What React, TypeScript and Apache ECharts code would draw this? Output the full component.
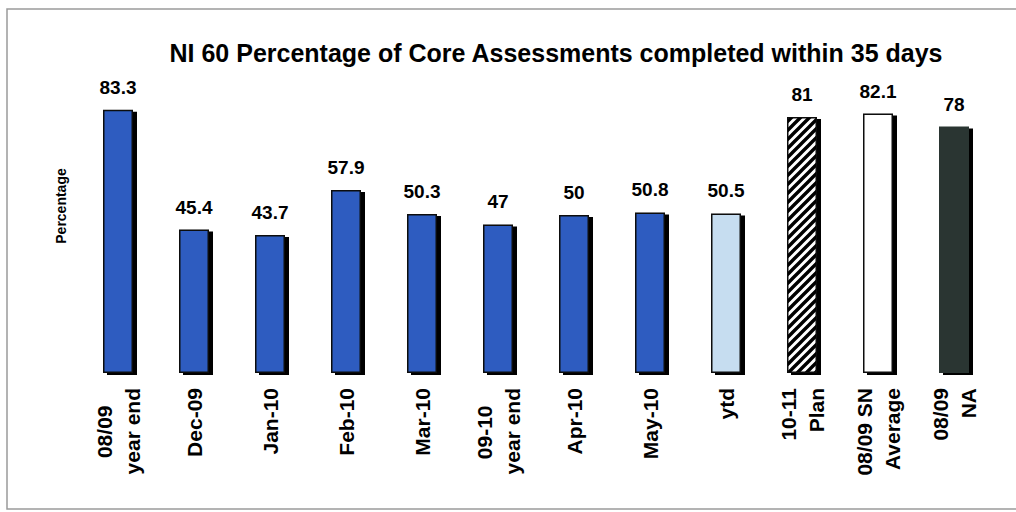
import React, { useEffect, useRef } from "react";
import * as echarts from "echarts";

const titleText = "NI 60 Percentage of Core Assessments completed within 35 days";
const yAxisName = "Percentage";
const categories = [
  "08/09\nyear end",
  "Dec-09",
  "Jan-10",
  "Feb-10",
  "Mar-10",
  "09-10\nyear end",
  "Apr-10",
  "May-10",
  "ytd",
  "10-11\nPlan",
  "08/09 SN\nAverage",
  "08/09\nNA",
];
const values = [83.3, 45.4, 43.7, 57.9, 50.3, 47, 50, 50.8, 50.5, 81, 82.1, 78];
const centeredLabels = ["08/09\nyear end", "09-10\nyear end"];

const FONT = "'Liberation Sans', Arial, sans-serif";

function makeHatch(): any {
  const size = 9;
  const c = document.createElement("canvas");
  c.width = size;
  c.height = size;
  const ctx = c.getContext("2d");
  if (!ctx) return "#ffffff";
  ctx.fillStyle = "#ffffff";
  ctx.fillRect(0, 0, size, size);
  ctx.strokeStyle = "#000000";
  ctx.lineWidth = 3.4;
  ctx.beginPath();
  ctx.moveTo(-size, 2 * size);
  ctx.lineTo(2 * size, -size);
  ctx.moveTo(-size, size);
  ctx.lineTo(size, -size);
  ctx.moveTo(0, 2 * size);
  ctx.lineTo(2 * size, 0);
  ctx.stroke();
  return { image: c, repeat: "repeat" };
}

export default function App() {
  const ref = useRef<HTMLDivElement>(null);
  useEffect(() => {
    if (!ref.current) return;
    const chart = echarts.init(ref.current, null, { renderer: "svg" });
    const blue = "#2d5cc0";
    const hatch = makeHatch();
    const styleFor = (i: number) => {
      const base: any = {
        borderColor: "#0d0d0d",
        borderWidth: 1.5,
        shadowColor: "#000",
        shadowBlur: 0,
        shadowOffsetX: 4,
        shadowOffsetY: 2,
      };
      if (i === 8) return { ...base, color: "#c6ddf0" };
      if (i === 9) return { ...base, color: hatch };
      if (i === 10) return { ...base, color: "#ffffff" };
      if (i === 11) return { ...base, color: "#2b3630", borderColor: "#2b3630" };
      return { ...base, color: blue };
    };
    const option: any = {
      animation: false,
      backgroundColor: "#ffffff",
      title: {
        text: titleText,
        left: 551,
        top: 35,
        textAlign: "center",
        textStyle: { fontFamily: FONT, fontSize: 25, fontWeight: "bold", color: "#000" },
      },
      graphic: [
        {
          type: "rect",
          shape: { x: 7, y: 9, width: 1020, height: 500 },
          style: { fill: "none", stroke: "#9a9a9a", lineWidth: 1.5 },
          silent: true,
        },
        {
          type: "text",
          x: 61,
          y: 206,
          rotation: Math.PI / 2,
          style: {
            text: yAxisName,
            align: "center",
            verticalAlign: "middle",
            fontFamily: FONT,
            fontSize: 14,
            fontWeight: "bold",
            fill: "#000",
          },
        },
      ],
      grid: { left: 80, right: 24, top: 57, bottom: 139, containLabel: false },
      xAxis: {
        type: "category",
        data: categories,
        axisLine: { show: false },
        axisTick: { show: false },
        axisLabel: {
          interval: 0,
          rotate: 90,
          margin: 15,
          fontFamily: FONT,
          fontSize: 21,
          fontWeight: "bold",
          color: "#000",
          lineHeight: 28,
          formatter: (v: string) => {
            if (centeredLabels.indexOf(v) >= 0) {
              const lines = v.split("\n");
              return lines[0] + "\u00a0\u00a0\u00a0\n" + lines[1];
            }
            return v;
          },
        },
      },
      yAxis: {
        type: "value",
        min: 0,
        max: 100,
        axisLine: { show: false },
        axisTick: { show: false },
        axisLabel: { show: false },
        splitLine: { show: false },
      },
      series: [
        {
          type: "bar",
          barWidth: 30,
          data: values.map((v, i) => ({ value: v, itemStyle: styleFor(i) })),
          label: {
            show: true,
            position: "top",
            distance: 13,
            fontFamily: FONT,
            fontSize: 19,
            fontWeight: "bold",
            color: "#000",
          },
        },
      ],
    };
    chart.setOption(option);
    return () => chart.dispose();
  }, []);
  return (
    <div
      ref={ref}
      style={{ position: "absolute", left: 0, top: 0, width: 1016, height: 512 }}
    />
  );
}
